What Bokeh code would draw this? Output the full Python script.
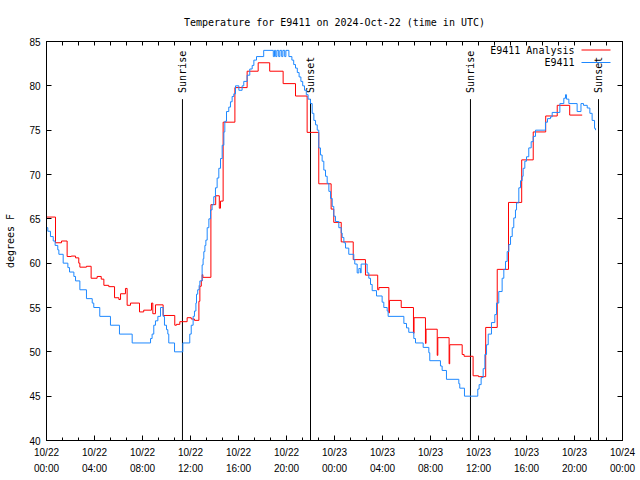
import numpy as np
from bokeh.plotting import figure
from bokeh.models import FixedTicker, LinearAxis, Label, Arrow, Range1d
from bokeh.core.properties import value
from bokeh.embed import file_html
from bokeh.resources import INLINE

# ---------------- data (hours since 2024-10-22 00:00 UTC) ----------------
title_text = "Temperature for E9411 on 2024-Oct-22 (time in UTC)"
y_axis_label = "degrees F"
series_names = ["E9411 Analysis", "E9411"]

x_tick_hours = [0, 4, 8, 12, 16, 20, 24, 28, 32, 36, 40, 44, 48]
x_tick_labels = ["10/22\n00:00", "10/22\n04:00", "10/22\n08:00", "10/22\n12:00",
                 "10/22\n16:00", "10/22\n20:00", "10/23\n00:00", "10/23\n04:00",
                 "10/23\n08:00", "10/23\n12:00", "10/23\n16:00", "10/23\n20:00",
                 "10/24\n00:00"]
y_ticks = [40, 45, 50, 55, 60, 65, 70, 75, 80, 85]

event_labels = ["Sunrise", "Sunset", "Sunrise", "Sunset"]
event_hours = [11.33, 22.0, 35.33, 46.0]

analysis_hours = [0.00, 0.75, 1.25, 1.72, 2.06, 2.42, 2.69, 2.78, 3.33, 3.72, 4.22, 4.56,
                  4.78, 5.19, 5.67, 6.03, 6.17, 6.58, 6.72, 7.00, 7.75, 8.10, 8.75, 8.86,
                  9.08, 9.72, 10.69, 10.83, 11.11, 11.72, 12.06, 12.33, 12.70, 12.78, 12.90,
                  12.97, 13.03, 13.70, 14.10, 14.40, 14.50, 14.72, 15.70, 16.72, 17.64,
                  18.60, 19.72, 20.75, 21.72, 22.69, 23.72, 23.94, 24.56, 25.56, 26.58,
                  27.60, 27.70, 28.53, 28.58, 29.56, 30.58, 30.63, 31.58, 31.63, 32.56,
                  32.61, 33.55, 33.60, 34.64, 34.80, 35.55, 36.00, 36.60, 37.56, 38.50,
                  39.60, 40.56, 41.60, 42.56, 43.60, 44.64]
analysis_temps = [65.2, 62.3, 62.5, 60.75, 60.8, 60.6, 60.0, 59.55, 59.65, 58.3, 58.5, 58.2,
                  57.5, 57.35, 56.1, 55.9, 56.55, 57.15, 55.25, 55.5, 54.5, 54.7, 55.5, 54.3,
                  55.3, 54.1, 53.0, 53.1, 53.4, 53.85, 53.7, 53.55, 55.7, 57.4, 58.0,
                  58.7, 58.4, 66.6, 67.6, 66.2, 67.0, 75.9, 79.8, 81.65, 82.6,
                  81.65, 80.25, 78.85, 74.75, 68.95, 66.1, 64.6, 62.4, 60.4, 58.65,
                  57.0, 57.25, 54.4, 55.8, 55.0, 52.1, 53.85, 50.95, 52.55, 49.6,
                  51.6, 48.65, 50.8, 49.7, 49.5, 47.3, 47.2, 52.75, 59.3, 66.85,
                  71.65, 74.8, 76.6, 77.8, 76.7, 76.7]

obs_hours = [0.00, 0.11, 0.33, 0.56, 0.72, 0.94, 1.03, 1.39, 1.78, 1.92, 2.28, 2.42, 2.78,
             3.33, 3.81, 3.94, 4.44, 5.33, 6.08, 7.14, 8.67, 8.80, 8.94, 9.08, 9.28, 9.50,
             9.72, 9.83, 10.00, 10.11, 10.19, 10.67, 11.36, 11.94, 12.06, 12.22, 12.33,
             12.45, 12.50, 12.60, 12.72, 12.78, 12.97, 13.05, 13.11, 13.20, 13.28, 13.39,
             13.53, 13.67, 13.80, 13.94, 14.08, 14.22, 14.36, 14.50, 14.64, 14.78, 14.86,
             15.00, 15.19, 15.33, 15.47, 15.61, 15.75, 16.03, 16.30, 16.44, 16.72, 16.94,
             17.14, 17.28, 17.50, 18.10, 18.90, 19.00, 19.10, 19.20, 19.35, 19.45, 19.60,
             19.70, 19.85, 19.95, 20.20, 20.45, 20.60, 20.75, 20.90, 21.05, 21.20, 21.35,
             21.50, 21.65, 21.80, 22.00, 22.14, 22.28, 22.42, 22.56, 22.69, 22.83, 22.97,
             23.11, 23.25, 23.39, 23.53, 23.67, 23.81, 23.94, 24.08, 24.36, 24.56, 24.64,
             24.78, 24.92, 25.19, 25.61, 25.69, 25.89, 26.03, 26.17, 26.22, 26.72, 26.86,
             27.00, 27.14, 27.50, 27.97, 28.11, 28.39, 28.47, 29.78, 30.00, 30.19, 30.61,
             30.75, 31.39, 31.86, 31.94, 32.83, 32.97, 33.33, 34.36, 34.44, 34.83, 35.94,
             36.05, 36.22, 36.39, 36.53, 36.67, 36.81, 37.08, 37.36, 37.50, 37.69, 37.97,
             38.11, 38.25, 38.39, 38.53, 38.67, 38.81, 38.94, 39.08, 39.17, 39.36, 39.50,
             39.64, 39.72, 39.86, 40.00, 40.19, 40.39, 40.56, 40.75, 41.58, 41.75, 42.00,
             42.14, 42.78, 43.11, 43.25, 43.33, 43.53, 44.22, 44.54, 44.75, 45.06, 45.28,
             45.47, 45.67, 45.75]
obs_temps = [64.0, 63.6, 63.0, 62.5, 62.0, 61.5, 61.0, 60.0, 59.5, 59.0, 58.5, 58.0, 57.0,
             56.0, 55.5, 55.0, 54.0, 53.0, 52.0, 51.0, 51.5, 52.0, 53.0, 53.5, 54.0, 55.0,
             54.0, 53.0, 52.5, 52.0, 51.0, 50.0, 51.0, 52.0, 53.0, 54.0, 54.6,
             55.5, 56.5, 57.0, 57.5, 58.0, 59.8, 60.5, 61.3, 62.0, 62.6, 64.0,
             65.0, 66.0, 66.6, 67.5, 68.5, 69.6, 70.7, 71.8, 73.3, 74.8, 76.0,
             77.1, 77.6, 78.2, 78.8, 79.1, 80.0, 79.5, 80.0, 80.5, 81.2, 81.9,
             82.3, 82.9, 83.3, 84.0, 83.3, 84.0, 83.3, 84.0, 83.3, 84.0, 83.3,
             84.0, 83.3, 84.0, 83.3, 82.9, 82.4, 82.0, 81.5, 81.0, 80.5, 80.0,
             79.5, 79.0, 78.5, 78.0, 76.9, 76.1, 75.6, 75.0, 73.0, 72.2, 71.5,
             70.5, 69.8, 69.0, 68.1, 67.3, 66.4, 65.3, 64.7, 64.0, 63.4, 62.9,
             62.3, 61.7, 61.0, 60.4, 59.9, 58.9, 59.4, 58.9, 59.9, 58.9, 58.3,
             57.6, 56.9, 56.3, 55.6, 55.0, 54.6, 54.0, 53.2, 52.7, 52.2, 51.5,
             51.0, 50.5, 49.9, 49.0, 48.4, 47.9, 46.9, 46.4, 45.9, 45.0, 45.8,
             46.3, 47.1, 48.1, 49.7, 50.8, 52.0, 53.3, 54.2, 55.5, 56.8, 58.3,
             59.3, 60.2, 61.3, 62.1, 63.0, 64.0, 65.1, 66.0, 66.8, 68.5, 69.3,
             69.8, 70.7, 71.5, 72.0, 73.0, 73.7, 74.3, 75.0, 75.9, 76.3, 76.5,
             77.0, 78.0, 78.6, 79.0, 78.5, 78.0, 77.1, 78.0, 77.8, 77.5, 76.9,
             76.1, 75.2, 75.0]

# ---------------- styles ----------------
RED = "#ff0000"
BLUE = "#1e88ff"
MONO = "DejaVu Sans Mono"
SANS = "Liberation Sans"
EVENT_LINE_TOP = 78.5
EVENT_LABEL_Y = 79.2

p = figure(width=640, height=480, x_range=Range1d(0, 48), y_range=Range1d(40, 85),
           output_backend="svg", toolbar_location=None, title=title_text,
           min_border_left=46, min_border_right=18, min_border_top=41, min_border_bottom=40)
p.background_fill_color = "white"
p.border_fill_color = "white"
p.outline_line_color = "black"
p.outline_line_width = 1
p.xgrid.visible = False
p.ygrid.visible = False

p.title.text_font = MONO
p.title.text_font_size = "10px"
p.title.text_font_style = "normal"
p.title.align = "center"
p.title.text_color = "black"
p.title.standoff = 28

x_minor = [i * 4.0 / 3.0 for i in range(37)]
xticker = FixedTicker(ticks=x_tick_hours, minor_ticks=x_minor)
yticker = FixedTicker(ticks=y_ticks, minor_ticks=[])


def style_axis(ax):
    ax.axis_line_color = "black"
    ax.major_tick_line_color = "black"
    ax.minor_tick_line_color = "black"
    ax.major_tick_in = 5
    ax.major_tick_out = 0
    ax.minor_tick_in = 3
    ax.minor_tick_out = 0
    ax.major_label_text_font = SANS
    ax.major_label_text_font_size = "10px"
    ax.major_label_text_color = "black"


p.xaxis.ticker = xticker
p.xaxis.major_label_overrides = {h: lbl for h, lbl in zip(x_tick_hours, x_tick_labels)}
p.yaxis.ticker = yticker
for ax in (p.xaxis[0], p.yaxis[0]):
    style_axis(ax)
p.xaxis.major_label_standoff = 6
p.xaxis.major_label_text_line_height = 1.5
p.yaxis.major_label_standoff = 6
p.yaxis.axis_label = y_axis_label
p.yaxis.axis_label_text_font = MONO
p.yaxis.axis_label_text_font_size = "10px"
p.yaxis.axis_label_text_font_style = "normal"
p.yaxis.axis_label_text_color = "black"
p.yaxis.axis_label_standoff = 10

# mirrored tick marks (no labels): all marks drawn as "minor" ticks
top = LinearAxis(ticker=FixedTicker(ticks=[], minor_ticks=x_minor))
right = LinearAxis(ticker=FixedTicker(ticks=[], minor_ticks=y_ticks))
for ax, ln in ((top, 4), (right, 5)):
    ax.axis_line_color = "black"
    ax.minor_tick_line_color = "black"
    ax.minor_tick_in = ln
    ax.minor_tick_out = 0
    ax.major_tick_in = 0
    ax.major_tick_out = 0
    ax.major_label_standoff = 0
p.add_layout(top, "above")
p.add_layout(right, "right")

# sunrise / sunset markers
p.segment(x0=event_hours, y0=[p.y_range.start] * len(event_hours), x1=event_hours,
          y1=[EVENT_LINE_TOP] * len(event_hours), line_color="black", line_width=1)
p.text(x=event_hours, y=[EVENT_LABEL_Y] * len(event_hours), text=event_labels,
       angle=np.pi / 2, text_font=value(MONO), text_font_size="10px",
       text_align="left", text_baseline="middle", text_color="black")

# data
p.step(analysis_hours, analysis_temps, mode="after", line_color=RED, line_width=1)
p.step(obs_hours, obs_temps, mode="after", line_color=BLUE, line_width=1)

# legend (text left of sample, gnuplot style)
for i, (name, col) in enumerate(zip(series_names, [RED, BLUE])):
    ly = 390.5 - 12.5 * i
    p.add_layout(Label(x=528, y=ly, x_units="screen", y_units="screen", text=name,
                       text_font=MONO, text_font_size="10px", text_align="right",
                       text_baseline="middle", text_color="black"))
    p.add_layout(Arrow(x_start=535, y_start=ly, x_end=564, y_end=ly,
                       start_units="screen", end_units="screen", start=None, end=None,
                       line_color=col, line_width=1))

open("out.html", "w").write(file_html(p, INLINE))
